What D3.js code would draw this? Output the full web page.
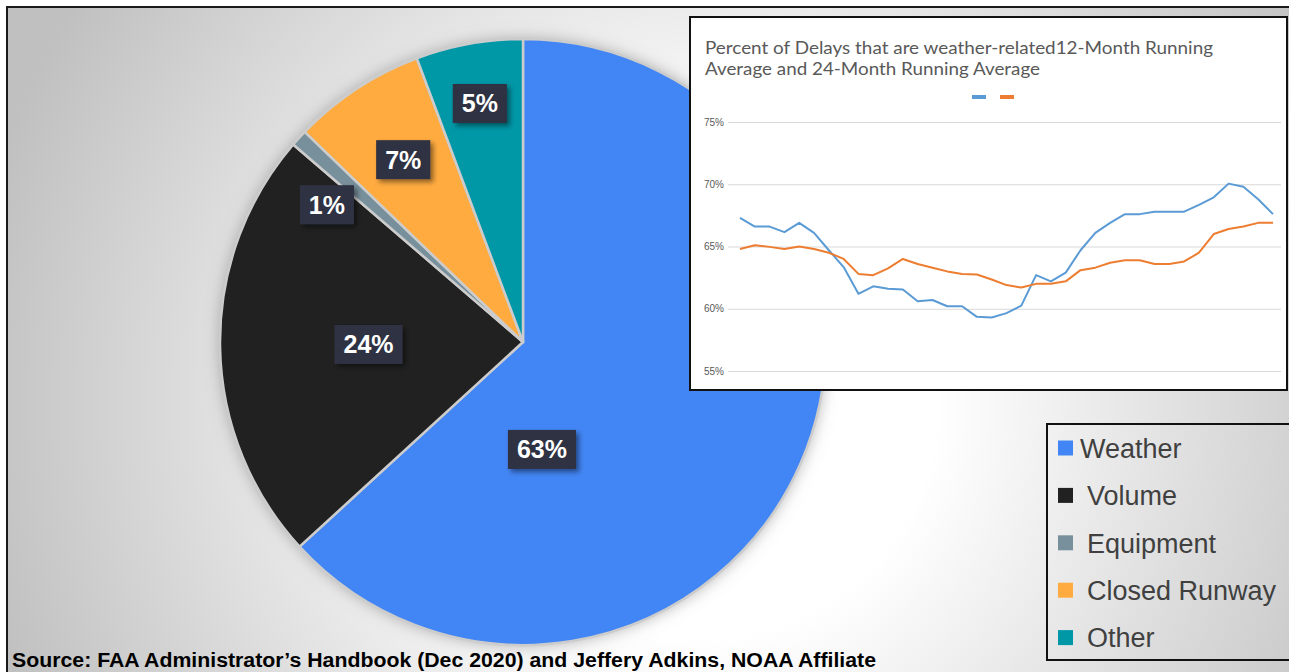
<!DOCTYPE html>
<html>
<head>
<meta charset="utf-8">
<script src="https://cdn.jsdelivr.net/npm/d3@7"></script>
<style>
  html, body { margin: 0; padding: 0; background: #fff; }
  svg { display: block; }
</style>
</head>
<body>
<div id="chart"></div>
<script>
// pie: causes of delay (share of slice) and printed labels
const causes = ['Weather', 'Volume', 'Equipment', 'Closed Runway', 'Other']
const shares = [63.2, 23.1, 0.9, 7.1, 5.7]
const shareLabels = ['63%', '24%', '1%', '7%', '5%']
const causeColors = ['#4285f4', '#212121', '#78909c', '#ffab40', '#0097a7']

// inset: running averages, one point per month
const avg12 = [67.3, 66.6, 66.6, 66.15, 66.9, 66.1, 64.7, 63.35, 61.2, 61.8, 61.6, 61.55, 60.6, 60.7, 60.2, 60.2,
	59.35, 59.3, 59.65, 60.25, 62.7, 62.2, 62.9, 64.7, 66.1, 66.9, 67.6, 67.6, 67.8, 67.8, 67.8, 68.35, 68.95,
	70.05, 69.8, 68.8, 67.6]
const avg24 = [64.8, 65.1, 64.97, 64.8, 65.0, 64.8, 64.5, 64.0, 62.8, 62.7, 63.25, 64.0, 63.6, 63.3, 63.0, 62.8,
	62.75, 62.35, 61.9, 61.7, 62.0, 62.0, 62.2, 63.1, 63.3, 63.7, 63.9, 63.9, 63.6, 63.6, 63.8, 64.5, 66.0,
	66.4, 66.6, 66.9, 66.9]
const yTicks = [55, 60, 65, 70, 75]
const insetTitle = ['Percent of Delays that are weather-related12-Month Running', 'Average and 24-Month Running Average']
const sourceText = 'Source: FAA Administrator\u2019s Handbook (Dec 2020) and Jeffery Adkins, NOAA Affiliate'

const width = 1289
const height = 672

const svg = d3.select('#chart').append('svg')
	.attr('width', width)
	.attr('height', height)

const defs = svg.append('defs')

// soft background, lightest just right of the pie
const bg = defs.append('radialGradient')
	.attr('id', 'bg')
	.attr('gradientUnits', 'userSpaceOnUse')
	.attr('cx', 700).attr('cy', 400).attr('r', 740)
bg.append('stop').attr('offset', 0).attr('stop-color', '#ffffff')
bg.append('stop').attr('offset', 0.32).attr('stop-color', '#ffffff')
bg.append('stop').attr('offset', 1).attr('stop-color', '#c0c0c0')

// glow round the pie
const glow = defs.append('filter').attr('id', 'glow')
	.attr('x', '-20%').attr('y', '-20%').attr('width', '140%').attr('height', '140%')
glow.append('feGaussianBlur').attr('in', 'SourceAlpha').attr('stdDeviation', 8).attr('result', 'b')
glow.append('feFlood').attr('flood-color', '#7a7a7a').attr('flood-opacity', 0.6)
glow.append('feComposite').attr('in2', 'b').attr('operator', 'in').attr('result', 's')
const gm = glow.append('feMerge')
gm.append('feMergeNode').attr('in', 's')
gm.append('feMergeNode').attr('in', 'SourceGraphic')

// shadow under the label boxes
const shadow = defs.append('filter').attr('id', 'shadow')
	.attr('x', '-30%').attr('y', '-30%').attr('width', '160%').attr('height', '160%')
shadow.append('feDropShadow').attr('dx', 3).attr('dy', 3).attr('stdDeviation', 2.5)
	.attr('flood-color', '#000').attr('flood-opacity', 0.45)

// outer frame
svg.append('rect')
	.attr('x', 7).attr('y', 7)
	.attr('width', width).attr('height', height)
	.attr('fill', 'url(#bg)')
	.attr('stroke', '#1a1a1a')
	.attr('stroke-width', 2)

// ---- pie ----
const center = { x: 523, y: 342 }
const radius = 303

const pie = d3.pie().sort(null).value(d => d.share)
const arc = d3.arc().innerRadius(0).outerRadius(radius)

const slices = causes.map((name, i) => ({ name, share: shares[i], label: shareLabels[i], color: causeColors[i] }))
const arcs = pie(slices)

const pieG = svg.append('g')
	.attr('transform', `translate(${center.x},${center.y})`)

pieG.append('g')
	.attr('filter', 'url(#glow)')
	.selectAll('path')
	.data(arcs)
	.join('path')
	.attr('d', arc)
	.attr('fill', d => d.data.color)

pieG.append('g')
	.selectAll('path')
	.data(arcs)
	.join('path')
	.attr('d', arc)
	.attr('fill', d => d.data.color)
	.attr('stroke', '#cccccc')
	.attr('stroke-width', 2.5)
	.attr('stroke-linejoin', 'round')

// label placement: fraction of radius, optional angle (degrees from 12 o'clock) where the mid angle is not used
const labelAt = {
	'Weather': { k: 0.36, a: 170 },
	'Volume': { k: 0.51 },
	'Equipment': { k: 0.79, a: 305 },
	'Closed Runway': { k: 0.72 },
	'Other': { k: 0.8 }
}

const labels = pieG.append('g')
	.selectAll('g')
	.data(arcs)
	.join('g')
	.attr('transform', d => {
		const p = labelAt[d.data.name]
		const a = p.a != null ? p.a * Math.PI / 180 : (d.startAngle + d.endAngle) / 2
		const r = p.k * radius
		return `translate(${r * Math.sin(a)},${-r * Math.cos(a)})`
	})

labels.append('rect')
	.attr('fill', '#2f3142')
	.attr('filter', 'url(#shadow)')

labels.append('text')
	.attr('text-anchor', 'middle')
	.attr('dy', '0.36em')
	.style('font', 'bold 25px "Liberation Sans", Arial, sans-serif')
	.attr('fill', '#ffffff')
	.text(d => d.data.label)

labels.each(function() {
	const g = d3.select(this)
	const w = g.select('text').node().getComputedTextLength() + 18
	g.select('rect')
		.attr('x', -w / 2).attr('y', -19.5)
		.attr('width', w).attr('height', 39)
})

// ---- inset line chart ----
const inset = { x: 690, y: 17, w: 597, h: 373 }

svg.append('rect')
	.attr('x', inset.x).attr('y', inset.y)
	.attr('width', inset.w).attr('height', inset.h)
	.attr('fill', '#ffffff')
	.attr('stroke', '#111111')
	.attr('stroke-width', 2)

// widths of the two title lines in the original
const titleWidths = [508, 335]

svg.append('g')
	.selectAll('text')
	.data(insetTitle)
	.join('text')
	.attr('x', 705)
	.attr('y', (d, i) => 54 + i * 20.5)
	.attr('textLength', (d, i) => titleWidths[i])
	.attr('lengthAdjust', 'spacingAndGlyphs')
	.style('font', '17px Lato, "Open Sans", sans-serif')
	.attr('fill', '#595959')
	.text(d => d)

const x = d3.scaleLinear()
	.domain([0, avg12.length - 1])
	.range([740, 1273])

const y = d3.scaleLinear()
	.domain([55, 75])
	.range([371, 122])

const yAxis = svg.append('g')
	.attr('transform', 'translate(728,0)')
	.call(d3.axisLeft(y)
		.tickValues(yTicks)
		.tickSize(-553)
		.tickPadding(4)
		.tickFormat(d => d + '%'))

yAxis.select('.domain').remove()
yAxis.selectAll('.tick line').attr('stroke', '#d9d9d9').attr('stroke-width', 1.2)
yAxis.selectAll('.tick text')
	.attr('fill', '#595959')
	.style('font', '10px "Liberation Sans", Arial, sans-serif')

const line = d3.line()
	.x((d, i) => x(i))
	.y(d => y(d))

const series = [
	{ name: '12-Month Running Average', values: avg12, color: '#5b9bd5' },
	{ name: '24-Month Running Average', values: avg24, color: '#ed7d31' }
]

svg.append('g')
	.selectAll('path')
	.data(series)
	.join('path')
	.attr('d', d => line(d.values))
	.attr('fill', 'none')
	.attr('stroke', d => d.color)
	.attr('stroke-width', 2)
	.attr('stroke-linejoin', 'round')

// legend swatches without names, as in the original
svg.append('g')
	.selectAll('line')
	.data(series)
	.join('line')
	.attr('x1', (d, i) => 972 + i * 28)
	.attr('x2', (d, i) => 986 + i * 28)
	.attr('y1', 97).attr('y2', 97)
	.attr('stroke', d => d.color)
	.attr('stroke-width', 4)

// ---- pie legend ----
svg.append('rect')
	.attr('x', 1047).attr('y', 424)
	.attr('width', 260).attr('height', 236)
	.attr('fill', 'none')
	.attr('stroke', '#111111')
	.attr('stroke-width', 2)

const legend = svg.append('g')
	.selectAll('g')
	.data(slices)
	.join('g')
	.attr('transform', (d, i) => `translate(1058,${448 + i * 47.4})`)

legend.append('rect')
	.attr('x', 0).attr('y', -7.5)
	.attr('width', 15).attr('height', 15)
	.attr('fill', d => d.color)

legend.append('text')
	.attr('x', (d, i) => i === 0 ? 22 : 29)
	.attr('dy', '0.36em')
	.style('font', '27px "Liberation Sans", Arial, sans-serif')
	.attr('fill', '#404040')
	.text(d => d.name)

// ---- source ----
svg.append('text')
	.attr('x', 12)
	.attr('y', 667)
	.attr('textLength', 864)
	.attr('lengthAdjust', 'spacingAndGlyphs')
	.style('font', 'bold 19.5px "Liberation Sans", Arial, sans-serif')
	.attr('fill', '#000000')
	.text(sourceText)
</script>
</body>
</html>
